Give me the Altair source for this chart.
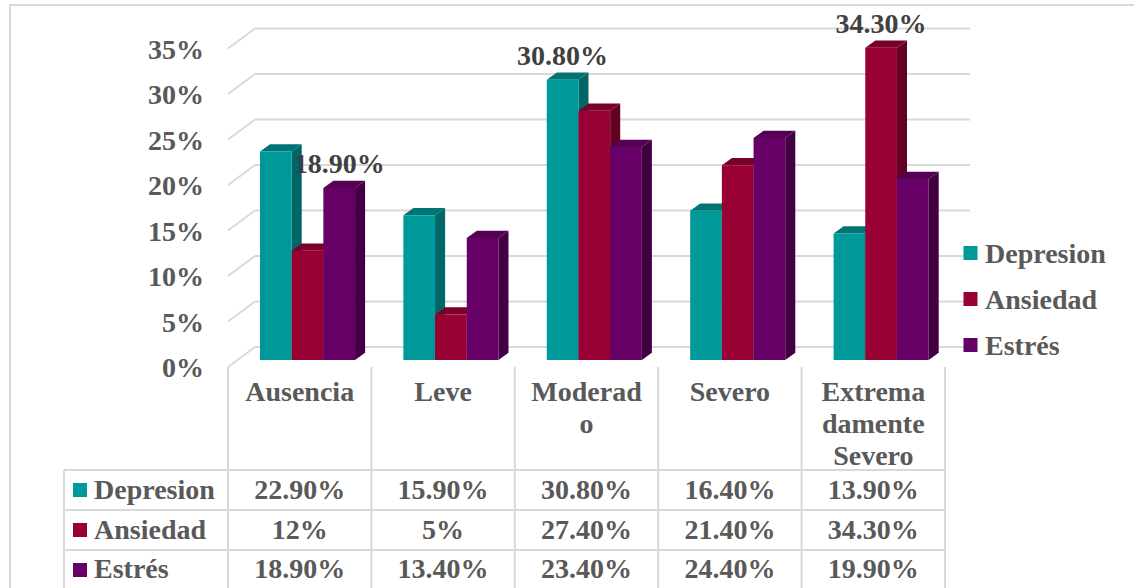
import altair as alt
import pandas as pd

# ---- data -------------------------------------------------------------
categories = ["Ausencia", "Leve", "Moderado", "Severo", "Extremadamente Severo"]
header_labels = ["Ausencia", "Leve", "Moderad\no", "Severo", "Extrema\ndamente\nSevero"]
series = ["Depresion", "Ansiedad", "Estrés"]
depresion = [22.9, 15.9, 30.8, 16.4, 13.9]
ansiedad = [12.0, 5.0, 27.4, 21.4, 34.3]
estres = [18.9, 13.4, 23.4, 24.4, 19.9]
y_ticks = [0, 5, 10, 15, 20, 25, 30, 35]
y_tick_labels = ["0%", "5%", "10%", "15%", "20%", "25%", "30%", "35%"]
# bars that carry a value label above them: (category, series)
labelled = [("Ausencia", "Estrés"), ("Moderado", "Depresion"),
            ("Extremadamente Severo", "Ansiedad")]

# ---- styling ----------------------------------------------------------
front_colors = ["#009999", "#990033", "#660066"]
side_colors = ["#006666", "#640021", "#420042"]
top_colors = ["#007474", "#78002a", "#540054"]
FONT = "'Liberation Serif', 'Times New Roman', Times, serif"
GREY = "#595959"
DARK = "#404040"
LINE = "#D9D9D9"
FS = 28

# bar geometry in category units (one category = 1.0)
GROUP_LEFT = 0.223
BAR_W = 0.221
DEPTH_X = 0.07   # 3-D side depth
DEPTH_Y = 0.8    # 3-D rise, in percentage points

XS = alt.Scale(domain=[0, 5], range=[228, 945], nice=False, zero=False)
YS = alt.Scale(domain=[0, 35], range=[360, 41.5], nice=False, zero=False)

values = dict(zip(series, [depresion, ansiedad, estres]))


def pct(v):
    return f"{v:.0f}%" if float(v).is_integer() else f"{v:.2f}%"


def X(field):
    return alt.X(field, type="quantitative", scale=XS, axis=None)


def Y(field):
    return alt.Y(field, type="quantitative", scale=YS, axis=None)


def text_mark(**kw):
    base = dict(font=FONT, fontSize=FS, fontWeight="bold", color=GREY)
    base.update(kw)
    return base


layers = []

# outer frame
frame = pd.DataFrame({"k": [0]})
layers.append(
    alt.Chart(frame).mark_rect(fill="white", fillOpacity=0, stroke=LINE, strokeWidth=2)
    .encode(x=alt.value(10), x2=alt.value(1170), y=alt.value(5), y2=alt.value(630))
)

# back wall gridlines and left-wall slants
ticks = pd.DataFrame({"v": y_ticks, "label": y_tick_labels})
layers.append(
    alt.Chart(ticks).mark_rule(color=LINE, strokeWidth=2, yOffset=-13, y2Offset=-13)
    .encode(x=alt.value(255), x2=alt.value(970), y=Y("v"), y2=alt.Y2("v"))
)
layers.append(
    alt.Chart(ticks).mark_rule(color=LINE, strokeWidth=2, yOffset=7, y2Offset=-13)
    .encode(x=alt.value(228), x2=alt.value(255), y=Y("v"), y2=alt.Y2("v"))
)
layers.append(
    alt.Chart(ticks).mark_text(**text_mark(align="right", baseline="alphabetic", dy=17))
    .encode(x=alt.value(204), y=Y("v"), text="label:N")
)

# bars: side face, top face, front face for each series
for j, s in enumerate(series):
    fronts, sides, tops = [], [], []
    for i, c in enumerate(categories):
        v = values[s][i]
        x0 = i + GROUP_LEFT + j * BAR_W
        x1 = x0 + BAR_W
        fronts.append({"cat": c, "x0": x0, "x1": x1, "v": v, "base": 0.0})
        sides += [
            {"cat": c, "x": x1, "y": v, "y2": 0.0},
            {"cat": c, "x": x1 + DEPTH_X, "y": v + DEPTH_Y, "y2": DEPTH_Y},
        ]
        tops += [
            {"cat": c, "x": x0, "y": v, "y2": v},
            {"cat": c, "x": x0 + DEPTH_X, "y": v + DEPTH_Y, "y2": v},
            {"cat": c, "x": x1, "y": v + DEPTH_Y, "y2": v},
            {"cat": c, "x": x1 + DEPTH_X, "y": v + DEPTH_Y, "y2": v + DEPTH_Y},
        ]
    layers.append(
        alt.Chart(pd.DataFrame(sides)).mark_area(color=side_colors[j])
        .encode(x=X("x"), y=Y("y"), y2=alt.Y2("y2"), detail="cat:N")
    )
    layers.append(
        alt.Chart(pd.DataFrame(tops)).mark_area(color=top_colors[j])
        .encode(x=X("x"), y=Y("y"), y2=alt.Y2("y2"), detail="cat:N")
    )
    layers.append(
        alt.Chart(pd.DataFrame(fronts)).mark_rect(color=front_colors[j])
        .encode(x=X("x0"), x2=alt.X2("x1"), y=Y("v"), y2=alt.Y2("base"))
    )

# value labels above selected bars
lab_rows = []
for c, s in labelled:
    i, j = categories.index(c), series.index(s)
    v = values[s][i]
    lab_rows.append({"x": i + GROUP_LEFT + (j + 0.5) * BAR_W, "v": v, "label": pct(v)})
layers.append(
    alt.Chart(pd.DataFrame(lab_rows))
    .mark_text(**text_mark(color=DARK, baseline="alphabetic", dy=-15))
    .encode(x=X("x"), y=Y("v"), text="label:N")
)

# right-hand legend
for j, s in enumerate(series):
    row = pd.DataFrame({"label": [s]})
    layers.append(
        alt.Chart(row).mark_square(size=196, color=front_colors[j], opacity=1)
        .encode(x=alt.value(970.5), y=alt.value(253 + 46 * j))
    )
    layers.append(
        alt.Chart(row).mark_text(**text_mark(align="left", baseline="alphabetic"))
        .encode(x=alt.value(985), y=alt.value(263 + 46 * j), text="label:N")
    )

# data table underneath
bounds = pd.DataFrame({"b": list(range(len(categories) + 1))})
layers.append(
    alt.Chart(bounds).mark_rule(color=LINE, strokeWidth=2)
    .encode(x=X("b"), y=alt.value(367), y2=alt.value(600))
)
layers.append(
    alt.Chart(frame).mark_rule(color=LINE, strokeWidth=2)
    .encode(x=alt.value(64), y=alt.value(470), y2=alt.value(600))
)
for ry in [470, 510, 550]:
    layers.append(
        alt.Chart(frame).mark_rule(color=LINE, strokeWidth=2)
        .encode(x=alt.value(64), x2=alt.value(945), y=alt.value(ry))
    )

header = pd.DataFrame({"xc": [i + 0.5 for i in range(len(categories))],
                       "label": header_labels})
layers.append(
    alt.Chart(header)
    .mark_text(**text_mark(baseline="alphabetic", lineBreak="\n", lineHeight=32))
    .encode(x=X("xc"), y=alt.value(401), text="label:N")
)

row_base = [499, 539, 578]
for j, s in enumerate(series):
    cells = pd.DataFrame({"xc": [i + 0.5 for i in range(len(categories))],
                          "label": [pct(v) for v in values[s]]})
    layers.append(
        alt.Chart(cells).mark_text(**text_mark(baseline="alphabetic"))
        .encode(x=X("xc"), y=alt.value(row_base[j]), text="label:N")
    )
    row = pd.DataFrame({"label": [s]})
    layers.append(
        alt.Chart(row).mark_square(size=196, color=front_colors[j], opacity=1)
        .encode(x=alt.value(80), y=alt.value(490 + 40 * j))
    )
    layers.append(
        alt.Chart(row).mark_text(**text_mark(align="left", baseline="alphabetic"))
        .encode(x=alt.value(94), y=alt.value(row_base[j]), text="label:N")
    )

chart = (
    alt.layer(*layers)
    .properties(width=1134, height=588, padding=0, background="white",
                autosize=alt.AutoSizeParams(type="none"))
    .configure_view(strokeWidth=0)
)

chart.save("out.html", embed_options={"renderer": "svg", "actions": False})
